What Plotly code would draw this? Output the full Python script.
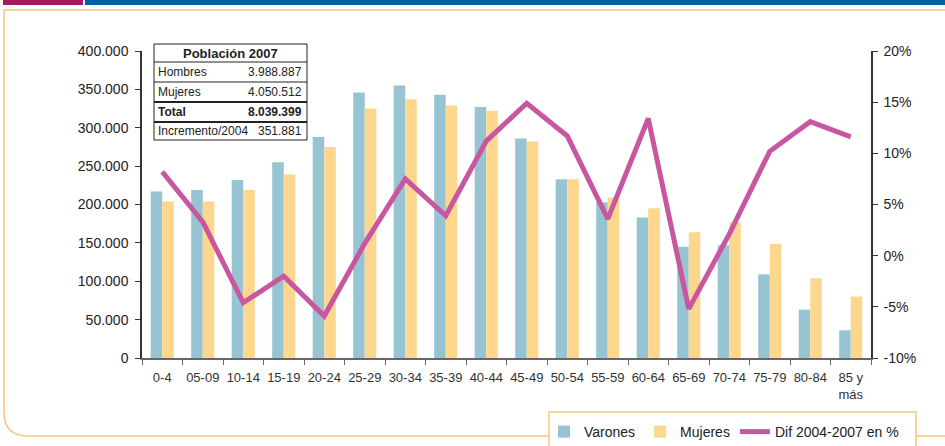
import plotly.graph_objects as go

# ---------------- data ----------------
categories = ["0-4", "05-09", "10-14", "15-19", "20-24", "25-29", "30-34", "35-39",
              "40-44", "45-49", "50-54", "55-59", "60-64", "65-69", "70-74", "75-79",
              "80-84", "85 y<br>más"]
varones = [217000, 219000, 232000, 255000, 288000, 346000, 355000, 343000, 327000,
           286000, 233000, 203000, 183000, 145000, 147000, 109000, 63000, 36000]
mujeres = [204000, 204000, 219000, 239000, 275000, 325000, 337000, 329000, 322000,
           282000, 233000, 209000, 195000, 164000, 177000, 149000, 104000, 80000]
dif_pct = [8.2, 3.3, -4.6, -2.0, -5.9, 1.2, 7.5, 3.9, 11.2, 14.9, 11.7, 3.6, 13.4,
           -5.2, 2.1, 10.2, 13.1, 11.6]

left_ticks = [0, 50000, 100000, 150000, 200000, 250000, 300000, 350000, 400000]
pct_ticks = [-10, -5, 0, 5, 10, 15, 20]
pct_labels = ["-10%", "-5%", "0%", "5%", "10%", "15%", "20%"]

table_title = "Población 2007"
table_labels = ["Hombres", "Mujeres", "Total", "Incremento/2004"]
table_values = ["3.988.887", "4.050.512", "8.039.399", "351.881"]
table_bold = [False, False, True, False]

# ---------------- styling ----------------
W, H = 945, 446
L, R, T, B = 142, 74, 51, 88
PW, PH = W - L - R, H - T - B

def px(x):
    return (x - L) / PW

def py(y):
    return (H - B - y) / PH

C_V = "#96C4D3"
C_M = "#FDD78D"
C_L = "#C9579F"
C_FRAME = "#F5C880"
FONT = "Liberation Sans, Arial, sans-serif"

fig = go.Figure()
fig.add_trace(go.Bar(x=categories, y=varones, name="Varones", marker_color=C_V,
                     marker_line_width=0))
fig.add_trace(go.Bar(x=categories, y=mujeres, name="Mujeres", marker_color=C_M,
                     marker_line_width=0))
fig.add_trace(go.Scatter(x=categories, y=dif_pct, name="Dif 2004-2007 en %", yaxis="y2",
                         mode="lines", line=dict(color=C_L, width=5)))

shapes = []
# top decorative bars
shapes.append(dict(type="rect", xref="paper", yref="paper", x0=px(3), x1=px(83),
                   y0=py(0), y1=py(5), fillcolor="#A51B5E", line_width=0, layer="below"))
shapes.append(dict(type="rect", xref="paper", yref="paper", x0=px(85), x1=px(946),
                   y0=py(0), y1=py(5), fillcolor="#0060A0", line_width=0, layer="below"))
# orange frame with rounded bottom-left corner
r = 24
path = (f"M {px(946)},{py(10)} L {px(4)},{py(10)} L {px(4)},{py(436 - r)} "
        f"Q {px(4)},{py(436)} {px(4 + r)},{py(436)} L {px(946)},{py(436)}")
shapes.append(dict(type="path", xref="paper", yref="paper", path=path,
                   line=dict(color=C_FRAME, width=1.5), layer="below"))
# legend box (cut off at bottom)
shapes.append(dict(type="rect", xref="paper", yref="paper", x0=px(549), x1=px(916),
                   y0=py(412), y1=py(470), fillcolor="white",
                   line=dict(color=C_FRAME, width=1.5), layer="below"))

# table
tx0, tx1 = 154, 307
rows = [44, 62, 82, 102, 122, 140]
shapes.append(dict(type="rect", xref="paper", yref="paper", x0=px(tx0), x1=px(tx1),
                   y0=py(rows[0]), y1=py(rows[-1]), fillcolor="white",
                   line=dict(color="#222222", width=1), layer="above"))
for i, yy in enumerate(rows[1:-1]):
    w = 2 if i in (2, 3) else 1
    shapes.append(dict(type="line", xref="paper", yref="paper", x0=px(tx0), x1=px(tx1),
                       y0=py(yy), y1=py(yy), line=dict(color="#222222", width=w),
                       layer="above"))

annotations = []
annotations.append(dict(xref="paper", yref="paper", x=px((tx0 + tx1) / 2),
                        y=py((rows[0] + rows[1]) / 2), text=f"<b>{table_title}</b>",
                        showarrow=False, font=dict(family=FONT, size=13, color="#222"),
                        xanchor="center", yanchor="middle"))
for i, (lab, val) in enumerate(zip(table_labels, table_values)):
    yc = py((rows[i + 1] + rows[i + 2]) / 2)
    lt = f"<b>{lab}</b>" if table_bold[i] else lab
    vt = f"<b>{val}</b>" if table_bold[i] else val
    annotations.append(dict(xref="paper", yref="paper", x=px(tx0 + 2), y=yc, text=lt,
                            showarrow=False, xanchor="left", yanchor="middle",
                            font=dict(family=FONT, size=12, color="#222")))
    annotations.append(dict(xref="paper", yref="paper", x=px(tx1 - 3), y=yc, text=vt,
                            showarrow=False, xanchor="right", yanchor="middle",
                            font=dict(family=FONT, size=12, color="#222")))

fig.update_layout(
    width=W, height=H,
    margin=dict(l=L, r=R, t=T, b=B, pad=0, autoexpand=False),
    paper_bgcolor="white", plot_bgcolor="white",
    separators=",.",
    barmode="group", bargap=0.43, bargroupgap=0,
    shapes=shapes, annotations=annotations,
    showlegend=True,
    legend=dict(orientation="h", x=px(544), y=py(416), xanchor="left", yanchor="top",
                font=dict(family=FONT, size=14, color="#222"), bgcolor="rgba(0,0,0,0)",
                borderwidth=0, itemclick=False, tracegroupgap=0),
    xaxis=dict(type="category", showline=True, linecolor="#666", linewidth=1.5,
               ticks="outside", tickson="boundaries", ticklen=5, tickcolor="#666",
               tickangle=0, tickfont=dict(family=FONT, size=13, color="#333"),
               showgrid=False, zeroline=False, fixedrange=True, ticklabelstandoff=7),
    yaxis=dict(range=[0, 400000], tickvals=left_ticks, tickformat=",.0f",
               showline=True, linecolor="#333", linewidth=1.5, ticks="outside",
               ticklen=5, tickcolor="#333", showgrid=False, zeroline=False,
               ticklabelstandoff=4,
               tickfont=dict(family=FONT, size=14, color="#222")),
    yaxis2=dict(range=[-10, 20], tickvals=pct_ticks, ticktext=pct_labels,
                overlaying="y", side="right", showline=True, linecolor="#333",
                linewidth=1.5, ticks="outside", ticklen=5, tickcolor="#333",
                showgrid=False, zeroline=False, ticklabelstandoff=3,
                tickfont=dict(family=FONT, size=14, color="#222")),
)

fig.write_html("out.html", config={"displayModeBar": False},
               post_script="document.body.style.margin='0px';"
                           "document.body.style.overflow='hidden';")
